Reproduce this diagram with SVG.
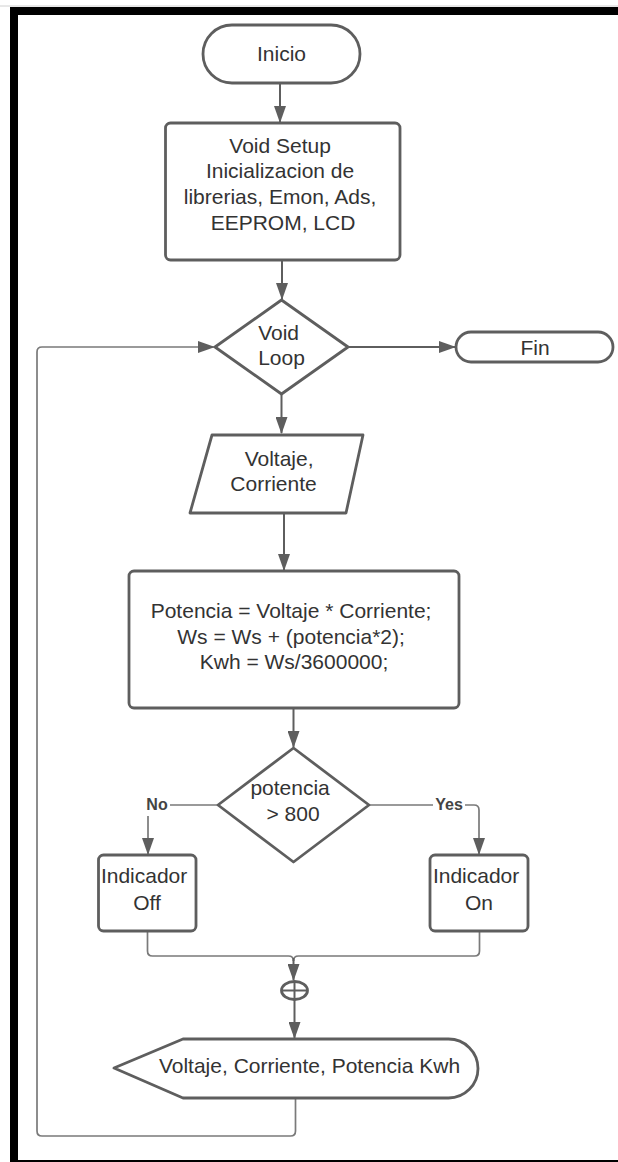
<svg xmlns="http://www.w3.org/2000/svg" width="618" height="1162" viewBox="0 0 618 1162">
  <style>
    .node { fill: #ffffff; stroke: #5e5e5e; stroke-width: 2.8; stroke-linejoin: round; }
    .lbl { font-family: "Liberation Sans", Arial, sans-serif; font-size: 21px; fill: #333333; text-anchor: middle; }
    .tag { font-family: "Liberation Sans", Arial, sans-serif; font-size: 16px; font-weight: bold; fill: #444444; text-anchor: middle; }
    .flow { fill: none; stroke: #5e5e5e; stroke-width: 2; }
    .thin { fill: none; stroke: #7a7a7a; stroke-width: 1.7; stroke-linejoin: round; }
  </style>
  <defs>
    <marker id="head" markerUnits="userSpaceOnUse" markerWidth="17" markerHeight="12" refX="16" refY="6" orient="auto">
      <path d="M0,0 L17,6 L0,12 Z" fill="#5e5e5e"/>
    </marker>
  </defs>

  <rect width="618" height="1162" fill="#ffffff"/>

  <!-- page frame -->
  <g id="frame">
    <line x1="0" y1="6" x2="618" y2="6" stroke="#d0d0d0" stroke-width="1"/>
    <rect x="10" y="7" width="608" height="8" fill="#000000"/>
    <rect x="10" y="7" width="8" height="1155" fill="#000000"/>
    <rect x="10" y="1160" width="608" height="2" fill="#000000"/>
  </g>

  <!-- connectors -->
  <g id="connectors">
    <line class="flow" x1="280" y1="83" x2="280" y2="122" marker-end="url(#head)"/>
    <line class="flow" x1="282" y1="260" x2="282" y2="299" marker-end="url(#head)"/>
    <line class="flow" x1="348" y1="347" x2="455" y2="347" marker-end="url(#head)"/>
    <line class="flow" x1="281.5" y1="394" x2="281.5" y2="433" marker-end="url(#head)"/>
    <line class="flow" x1="284" y1="513" x2="284" y2="570" marker-end="url(#head)"/>
    <line class="flow" x1="293.5" y1="708" x2="293.5" y2="747" marker-end="url(#head)"/>
    <!-- No branch -->
    <path class="thin" d="M218,805 H153 Q148,805 148,810 V854" marker-end="url(#head)"/>
    <!-- Yes branch -->
    <path class="thin" d="M369,805 H474 Q479,805 479,810 V854" marker-end="url(#head)"/>
    <!-- merge -->
    <path class="thin" d="M147.5,931 V951 Q147.5,956 152.5,956 H288.5 Q293.5,956 293.5,961"/>
    <path class="thin" d="M479.5,931 V951 Q479.5,956 474.5,956 H298.5 Q293.5,956 293.5,961"/>
    <line class="flow" x1="293.5" y1="958" x2="293.5" y2="980" marker-end="url(#head)"/>
    <line class="flow" x1="294.5" y1="999.5" x2="294.5" y2="1038" marker-end="url(#head)"/>
    <!-- loop back -->
    <path class="thin" d="M295.5,1098 V1131 Q295.5,1136 290.5,1136 H42 Q37,1136 37,1131 V352 Q37,347 42,347 H214" marker-end="url(#head)"/>
  </g>

  <g id="inicio">
    <rect class="node" x="203" y="25" width="157" height="58" rx="29"/>
    <text class="lbl" x="281.5" y="61">Inicio</text>
  </g>

  <g id="setup">
    <rect class="node" x="165.5" y="123" width="234.5" height="137" rx="5"/>
    <text class="lbl">
      <tspan x="283" y="153">Void Setup</tspan>
      <tspan x="283" y="178">Inicializacion de</tspan>
      <tspan x="283" y="204">librerias, Emon, Ads,</tspan>
      <tspan x="283" y="230">EEPROM, LCD</tspan>
    </text>
  </g>

  <g id="loop">
    <polygon class="node" points="281.5,300 348,347 281.5,394 215,347"/>
    <text class="lbl">
      <tspan x="281.5" y="340">Void</tspan>
      <tspan x="281.5" y="365">Loop</tspan>
    </text>
  </g>

  <g id="fin">
    <rect class="node" x="456" y="332" width="157" height="30" rx="15"/>
    <text class="lbl" x="535" y="355">Fin</text>
  </g>

  <g id="input">
    <polygon class="node" points="212,435 363,435 346,513 190,513"/>
    <text class="lbl">
      <tspan x="282" y="466">Voltaje,</tspan>
      <tspan x="273.5" y="491">Corriente</tspan>
    </text>
  </g>

  <g id="calculo">
    <rect class="node" x="129" y="571" width="330" height="137" rx="5"/>
    <text class="lbl">
      <tspan x="294" y="618">Potencia = Voltaje * Corriente;</tspan>
      <tspan x="294" y="644">Ws = Ws + (potencia*2);</tspan>
      <tspan x="294" y="669">Kwh = Ws/3600000;</tspan>
    </text>
  </g>

  <g id="decision">
    <polygon class="node" points="293.5,748 369,805 293.5,862 218,805"/>
    <text class="lbl">
      <tspan x="293" y="795">potencia</tspan>
      <tspan x="293" y="821">&gt; 800</tspan>
    </text>
  </g>

  <g id="label-no">
    <rect x="144" y="796" width="26" height="20" fill="#ffffff"/>
    <text class="tag" x="157" y="810">No</text>
  </g>

  <g id="label-yes">
    <rect x="433" y="796" width="32" height="20" fill="#ffffff"/>
    <text class="tag" x="449" y="810">Yes</text>
  </g>

  <g id="off">
    <rect class="node" x="98.5" y="855" width="97.5" height="76" rx="5"/>
    <text class="lbl">
      <tspan x="147" y="883">Indicador</tspan>
      <tspan x="147" y="910">Off</tspan>
    </text>
  </g>

  <g id="on">
    <rect class="node" x="430" y="855" width="98" height="76" rx="5"/>
    <text class="lbl">
      <tspan x="479" y="883">Indicador</tspan>
      <tspan x="479" y="910">On</tspan>
    </text>
  </g>

  <g id="junction">
    <ellipse class="node" cx="294.5" cy="990.5" rx="13" ry="9" stroke-width="2.4"/>
    <line x1="281.5" y1="990.5" x2="307.5" y2="990.5" stroke="#5e5e5e" stroke-width="2"/>
    <line x1="294.5" y1="981.5" x2="294.5" y2="999.5" stroke="#5e5e5e" stroke-width="2"/>
  </g>

  <g id="display">
    <path class="node" d="M114,1068 L183,1039 H448.5 A29.5,29.5 0 0 1 448.5,1098 H183 Z"/>
    <text class="lbl" x="309.5" y="1073">Voltaje, Corriente, Potencia Kwh</text>
  </g>
</svg>
